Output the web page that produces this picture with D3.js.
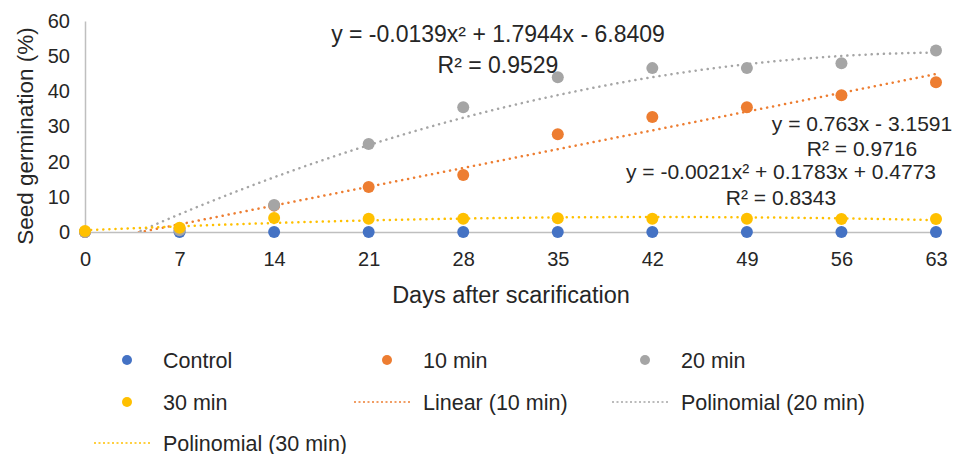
<!DOCTYPE html>
<meta charset="utf-8">
<style>
body { margin: 0; background: #fff; font-family: "Liberation Sans", Arial, sans-serif; }
text { fill: #262626; }
</style>
<body>
<script src="https://cdn.jsdelivr.net/npm/d3@7"></script>
<script>

// data
var days = [0, 7, 14, 21, 28, 35, 42, 49, 56, 63];
var control = [0, 0, 0, 0, 0, 0, 0, 0, 0, 0];
var min10 = [0, 1.0, 7.5, 12.8, 16.2, 27.8, 32.7, 35.5, 38.9, 42.6];
var min20 = [0, 0.5, 7.7, 25.0, 35.5, 44.0, 46.6, 46.6, 48.0, 51.6];
var min30 = [0.3, 1.2, 4.0, 3.8, 3.8, 3.9, 3.8, 3.8, 3.7, 3.7];
var yTicks = [0, 10, 20, 30, 40, 50, 60];

// trendline coefficients as printed on the chart (a x^2 + b x + c)
var fit10 = [0, 0.763, -3.1591];
var fit20 = [-0.0139, 1.7944, -6.8409];
var fit30 = [-0.0021, 0.1783, 0.4773];

var colors = {control: "#4472c4", m10: "#ed7d31", m20: "#a5a5a5", m30: "#ffc000"};

var width = 954, height = 454;

var svg = d3.select("body").append("svg")
  .attr("width", width)
  .attr("height", height);

var x = d3.scaleLinear().domain([0, 63]).range([85, 936]);
var y = d3.scaleLinear().domain([0, 60]).range([232, 21]);

svg.append("clipPath").attr("id", "plot")
  .append("rect")
  .attr("x", x(0)).attr("y", y(60))
  .attr("width", x(63) - x(0) + 10).attr("height", y(0) - y(60));

// axes
var yAxis = svg.append("g")
  .attr("transform", "translate(" + x(0) + ",0)")
  .call(d3.axisLeft(y).tickValues(yTicks).tickSize(0).tickPadding(15));
yAxis.select(".domain").attr("stroke", "#bfbfbf").attr("stroke-width", 1.5);
yAxis.selectAll("text").attr("font-size", 20).attr("font-family", "Liberation Sans");

var xAxis = svg.append("g")
  .attr("transform", "translate(0," + y(0) + ")")
  .call(d3.axisBottom(x).tickValues(days).tickSize(0).tickPadding(20));
xAxis.select(".domain").attr("stroke", "#bfbfbf").attr("stroke-width", 1.5);
xAxis.selectAll("text").attr("font-size", 20).attr("font-family", "Liberation Sans");

svg.append("text")
  .attr("x", 511).attr("y", 303)
  .attr("text-anchor", "middle")
  .attr("font-size", 23.5)
  .text("Days after scarification");

svg.append("text")
  .attr("transform", "translate(33,136) rotate(-90)")
  .attr("text-anchor", "middle")
  .attr("font-size", 22.5)
  .text("Seed germination (%)");

// trendlines
function curve(c) {
  return d3.range(0, 63.01, 0.5).map(function (d) {
    return [d, c[0] * d * d + c[1] * d + c[2]];
  });
}
var line = d3.line()
  .x(function (d) { return x(d[0]); })
  .y(function (d) { return y(d[1]); });

var trends = [[fit10, colors.m10], [fit20, colors.m20], [fit30, colors.m30]];
trends.forEach(function (t) {
  svg.append("path")
    .attr("clip-path", "url(#plot)")
    .attr("d", line(curve(t[0])))
    .attr("fill", "none")
    .attr("stroke", t[1])
    .attr("stroke-width", 2.5)
    .attr("stroke-linecap", "round")
    .attr("stroke-dasharray", "0.1,6");
});

// points
var series = [[control, colors.control], [min10, colors.m10], [min20, colors.m20], [min30, colors.m30]];
series.forEach(function (s) {
  svg.append("g").selectAll("circle")
    .data(s[0])
    .enter().append("circle")
    .attr("cx", function (d, i) { return x(days[i]); })
    .attr("cy", function (d) { return y(d); })
    .attr("r", 6)
    .attr("fill", s[1]);
});

// equations
var eqs = [
  {t: "y = -0.0139x\u00b2 + 1.7944x - 6.8409", x: 498, y: 42, fs: 23},
  {t: "R\u00b2 = 0.9529", x: 498, y: 73, fs: 23},
  {t: "y = 0.763x - 3.1591", x: 862, y: 131, fs: 21},
  {t: "R\u00b2 = 0.9716", x: 862, y: 156, fs: 21},
  {t: "y = -0.0021x\u00b2 + 0.1783x + 0.4773", x: 781, y: 179, fs: 21},
  {t: "R\u00b2 = 0.8343", x: 781, y: 205, fs: 21}
];
svg.append("g").selectAll("text")
  .data(eqs)
  .enter().append("text")
  .attr("x", function (d) { return d.x; })
  .attr("y", function (d) { return d.y; })
  .attr("text-anchor", "middle")
  .attr("font-size", function (d) { return d.fs; })
  .text(function (d) { return d.t; });

// legend
var legend = [
  {name: "Control", c: colors.control, kind: "dot", col: 0, row: 0},
  {name: "10 min", c: colors.m10, kind: "dot", col: 1, row: 0},
  {name: "20 min", c: colors.m20, kind: "dot", col: 2, row: 0},
  {name: "30 min", c: colors.m30, kind: "dot", col: 0, row: 1},
  {name: "Linear (10 min)", c: colors.m10, kind: "line", col: 1, row: 1},
  {name: "Polinomial (20 min)", c: colors.m20, kind: "line", col: 2, row: 1},
  {name: "Polinomial (30 min)", c: colors.m30, kind: "line", col: 0, row: 2}
];
var colX = [163, 423, 681];
var rowY = [360, 402, 443];

var items = svg.append("g").selectAll("g")
  .data(legend)
  .enter().append("g")
  .attr("transform", function (d) { return "translate(" + colX[d.col] + "," + rowY[d.row] + ")"; });

items.filter(function (d) { return d.kind == "dot"; })
  .append("circle")
  .attr("cx", -36).attr("r", 5)
  .attr("fill", function (d) { return d.c; });

items.filter(function (d) { return d.kind == "line"; })
  .append("line")
  .attr("x1", -69).attr("x2", -12)
  .attr("stroke", function (d) { return d.c; })
  .attr("stroke-width", 1.6)
  .attr("stroke-dasharray", "2,2.5");

items.append("text")
  .attr("dy", 7.5)
  .attr("font-size", 21.5)
  .text(function (d) { return d.name; });

</script>
</body>
